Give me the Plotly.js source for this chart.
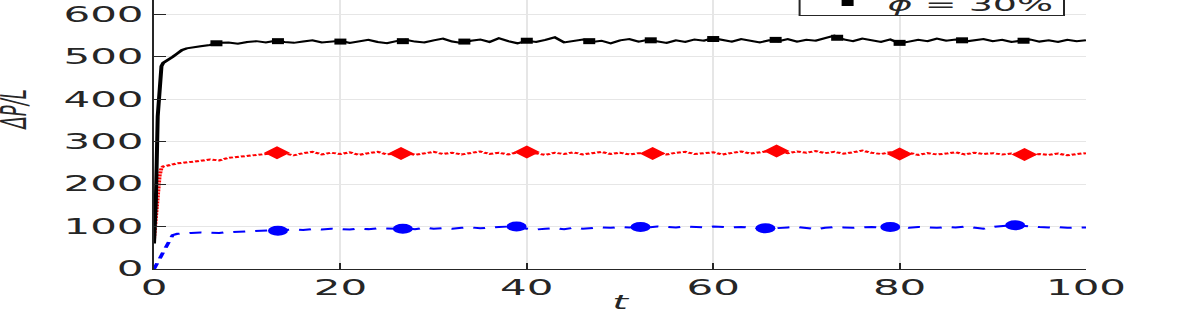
<!DOCTYPE html>
<html>
<head>
<meta charset="utf-8">
<script src="https://cdn.plot.ly/plotly-3.0.1.min.js"></script>
<style>
  html, body { margin: 0; padding: 0; overflow: hidden; background: #fff; }
  /* the reference is a horizontally stretched figure, so draw at half width and stretch */
  #chart { width: 598px; height: 314px; transform: scaleX(2); transform-origin: 0 0; }
</style>
</head>
<body>
<div id="chart"></div>
<script>
var tVals = [0, 0.2, 0.4, 0.6, 0.8, 1, 1.5, 2, 2.5, 3, 3.5, 4,
  5, 6, 7, 8, 9, 10, 11, 12, 13, 14, 15, 16, 17, 18, 19, 20,
  21, 22, 23, 24, 25, 26, 27, 28, 29, 30,
  31, 32, 33, 34, 35, 36, 37, 38, 39, 40,
  41, 42, 43, 44, 45, 46, 47, 48, 49, 50,
  51, 52, 53, 54, 55, 56, 57, 58, 59, 60,
  61, 62, 63, 64, 65, 66, 67, 68, 69, 70,
  71, 72, 73, 74, 75, 76, 77, 78, 79, 80,
  81, 82, 83, 84, 85, 86, 87, 88, 89, 90,
  91, 92, 93, 94, 95, 96, 97, 98, 99, 100];

// phi = 30%
var dp30 = [60, 160, 360, 455, 478, 486, 492, 500, 508, 516, 520, 522,
  525, 528, 533, 534, 531, 535, 537, 534, 538, 535, 533, 536, 539, 534, 536, 538,
  533, 536, 540, 535, 532, 537, 540, 536, 534, 539,
  543, 536, 533, 538, 541, 535, 544, 537, 532, 538,
  535, 540, 546, 534, 537, 541, 535, 538, 532, 539,
  542, 536, 540, 537, 533, 539, 535, 541, 538, 544,
  540, 536, 542, 538, 534, 539, 537, 542, 536, 540,
  538, 544, 550, 541, 537, 543, 539, 535, 541, 532,
  536, 540, 537, 543, 538, 541, 536, 539, 542, 537,
  540, 535, 538, 541, 536, 539, 535, 540, 537, 539];

// phi = 20%
var dp20 = [70, 130, 185, 220, 238, 242, 244, 247, 249, 250, 251, 252,
  255, 258, 256, 262, 264, 267, 269, 271, 274, 272, 268, 273, 276, 270, 274, 271,
  275, 269, 273, 276, 270, 272, 274, 269, 273, 276,
  271, 274, 270, 273, 277, 271, 274, 270, 275, 276,
  272, 269, 274, 271, 275, 270, 273, 276, 271, 274,
  270, 273, 272, 275, 270, 274, 276, 271, 273, 275,
  270, 274, 277, 272, 275, 278, 276, 273, 277, 274,
  278, 273, 276, 272, 275, 279, 274, 271, 275, 271,
  274, 269, 273, 270, 272, 275, 270, 274, 271, 273,
  270, 272, 270, 268, 271, 269, 272, 268, 271, 273];

// phi = 10%
var dp10 = [0, 8, 18, 28, 38, 46, 65, 80, 83, 84, 85, 85,
  86, 86, 85, 87, 88, 88, 89, 90, 91, 92, 93, 92, 94, 93, 95, 94,
  93, 95, 94, 96, 95, 95, 96, 94, 97, 95,
  96, 95, 97, 98, 96, 98, 99, 100, 100, 95,
  93, 95, 96, 94, 97, 95, 96, 98, 97, 99,
  98, 99, 98, 100, 99, 98, 100, 99, 98, 100,
  99, 98, 99, 97, 96, 95, 97, 98, 99, 97,
  94, 97, 99, 98, 97, 98, 99, 98, 98, 99,
  97, 99, 98, 97, 99, 98, 100, 97, 95, 99,
  101, 103, 102, 100, 99, 98, 99, 97, 98, 98];

// marker positions
var mk30T = [6.7, 13.3, 20, 26.7, 33.3, 40, 46.7, 53.3, 60, 66.7, 73.3, 80, 86.7, 93.3];
var mk30Y = [532, 537, 536, 537, 536, 538, 537, 539, 542, 540, 545, 533, 539, 538];
var mk20T = [13.2, 26.5, 40, 53.5, 66.8, 80, 93.4];
var mk20Y = [274, 272, 276, 272, 278, 271, 270];
var mk10T = [13.3, 26.7, 38.9, 52.2, 65.6, 79, 92.4];
var mk10Y = [90, 95, 100, 99, 96, 99, 103];

var names = ['<i>\u03d5</i>\u00a0=\u00a010%', '<i>\u03d5</i>\u00a0=\u00a020%', '<i>\u03d5</i>\u00a0=\u00a030%'];

var data = [
  { x: tVals, y: dp10, type: 'scatter', mode: 'lines', showlegend: false,
    line: { color: '#0000ff', width: 2, dash: '6px,5px' } },
  { x: tVals, y: dp20, type: 'scatter', mode: 'lines', showlegend: false,
    line: { color: '#ff0000', width: 2, dash: '2px,1px' } },
  { x: tVals, y: dp30, type: 'scatter', mode: 'lines', showlegend: false,
    line: { color: '#000000', width: 2 } },
  { x: mk10T, y: mk10Y, type: 'scatter', mode: 'markers', name: names[0],
    marker: { color: '#0000ff', symbol: 'circle', size: 10 } },
  { x: mk20T, y: mk20Y, type: 'scatter', mode: 'markers', name: names[1],
    marker: { color: '#ff0000', symbol: 'diamond', size: 10 } },
  { x: mk30T, y: mk30Y, type: 'scatter', mode: 'markers', name: names[2],
    marker: { color: '#000000', symbol: 'square', size: 6 } }
];

var axisFont = { family: 'DejaVu Sans', size: 21, color: '#262626' };

var layout = {
  width: 598,
  height: 314,
  margin: { l: 76.5, r: 54.5, t: 0, b: 45, autoexpand: false },
  paper_bgcolor: '#ffffff',
  plot_bgcolor: '#ffffff',
  font: axisFont,
  showlegend: true,
  legend: {
    x: 0.7013, xanchor: 'left',
    y: 0.915, yanchor: 'bottom',
    bgcolor: 'rgba(0,0,0,0)',
    borderwidth: 0,
    font: { family: 'DejaVu Sans', size: 19, color: '#262626' }
  },
  // legend frame, its top is cut off by the picture edge
  shapes: [{
    type: 'rect', xref: 'paper', yref: 'paper', layer: 'above',
    x0: 0.6927, x1: 0.9764, y0: 0.9424, y1: 1.2,
    line: { color: '#262626', width: 1 }, fillcolor: '#ffffff'
  }],
  annotations: [{
    text: '<i>\u0394P/L</i>', xref: 'paper', yref: 'paper',
    x: -0.152, y: 0.59, xanchor: 'center', yanchor: 'middle',
    textangle: -90, showarrow: false,
    font: { family: 'DejaVu Sans', size: 18, color: '#262626' }
  }],
  xaxis: {
    range: [0, 100],
    dtick: 20,
    showline: true, linecolor: '#262626', linewidth: 1,
    ticks: 'inside', ticklen: 6, tickcolor: '#262626',
    showgrid: true, gridcolor: '#e6e6e6',
    zeroline: false,
    tickfont: axisFont,
    title: { text: '<i>t</i>', font: { family: 'DejaVu Sans', size: 20, color: '#262626' }, standoff: 5 }
  },
  yaxis: {
    range: [0, 634],
    dtick: 100,
    showline: true, linecolor: '#262626', linewidth: 1,
    ticks: 'inside', ticklen: 6, tickcolor: '#262626',
    showgrid: true, gridcolor: '#e6e6e6',
    zeroline: false,
    tickfont: axisFont
  },
  yaxis2: {
    overlaying: 'y', side: 'right',
    range: [0, 634],
    dtick: 100,
    showline: true, linecolor: '#262626', linewidth: 1,
    ticks: 'inside', ticklen: 6, tickcolor: '#262626',
    showticklabels: false, showgrid: false, zeroline: false
  }
};

Plotly.newPlot('chart', data, layout, { displayModeBar: false, staticPlot: true });
</script>
</body>
</html>
